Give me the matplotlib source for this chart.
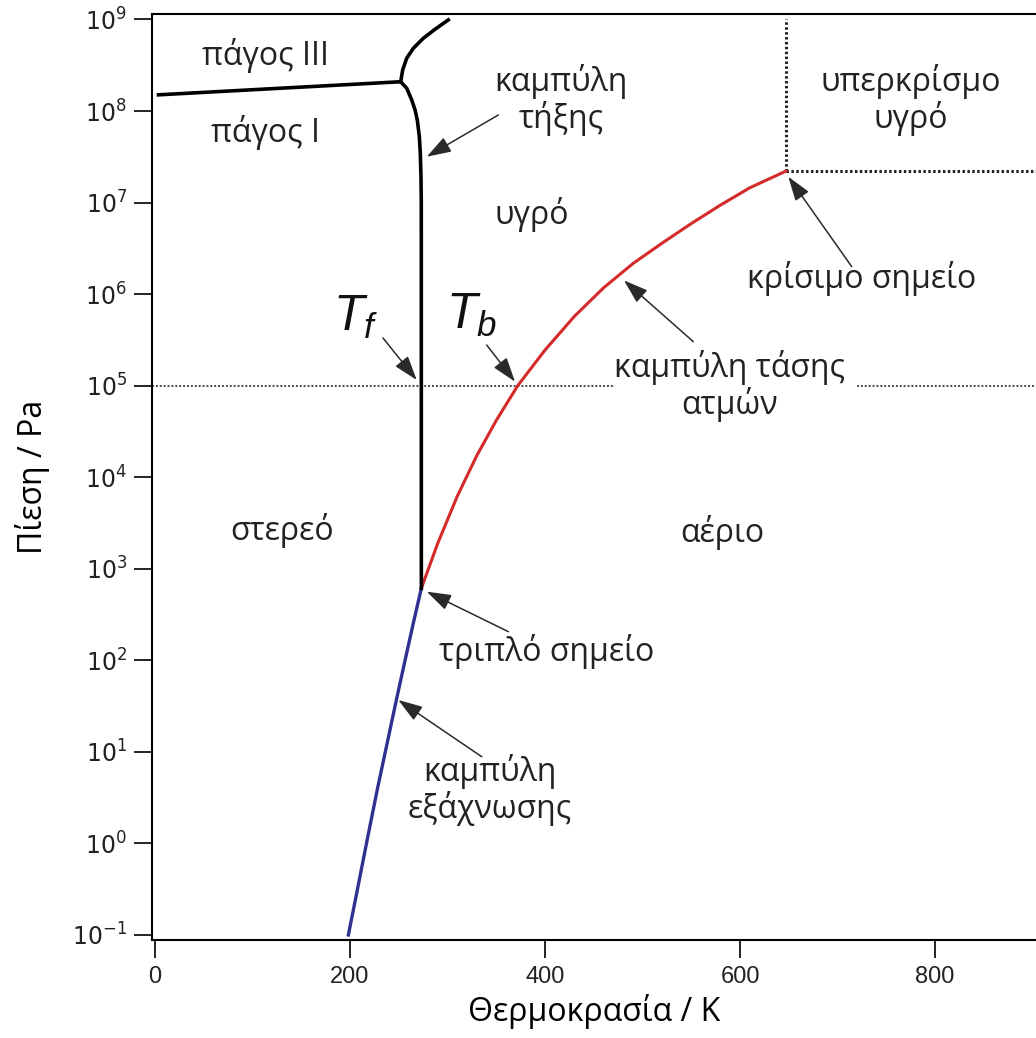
import numpy as np
import matplotlib
matplotlib.use("Agg")
import matplotlib.pyplot as plt
from matplotlib.ticker import FixedLocator, NullLocator

plt.rcParams["mathtext.fontset"] = "custom"
plt.rcParams["mathtext.rm"] = "Liberation Sans"
plt.rcParams["mathtext.it"] = "Liberation Sans:italic"

GREEK_FONT = ["Open Sans", "DejaVu Sans"]
TICK_FONT = ["Liberation Sans", "DejaVu Sans"]

# Phase boundaries of water (T in K, p in Pa)
triple_T, triple_p = 273.16, 611.7
critical_T, critical_p = 647.1, 2.206e7
standard_p = 1.0e5

# ice I / ice III boundary
ice13_T = [1.7, 252.0]
ice13_p = [1.50e8, 2.09e8]

# ice III / liquid (and above)
ice3_melt_T = [252.0, 254.0, 258.1, 264.9, 275.2, 287.2, 300.8]
ice3_melt_p = [2.09e8, 2.81e8, 3.77e8, 4.84e8, 6.24e8, 7.82e8, 9.9e8]

# ice I / liquid: melting curve
melt_T = [252.0, 258.2, 263.3, 266.7, 269.0, 271.1, 272.1, 272.8, 273.1, triple_T]
melt_p = [2.09e8, 1.77e8, 1.32e8, 1.03e8, 7.98e7, 5.25e7, 3.45e7, 1.92e7, 9.8e6, triple_p]

# liquid / vapour: vapour pressure curve
vap_T = [triple_T, 290, 310, 330, 350, 372, 400, 430, 460, 490, 520, 550, 580, 610, critical_T]
vap_p = [triple_p, 1.9e3, 6.2e3, 1.72e4, 4.17e4, 1.0e5, 2.45e5, 5.7e5, 1.17e6,
         2.15e6, 3.6e6, 5.9e6, 9.4e6, 1.45e7, critical_p]

# ice I / vapour: sublimation curve
sub_T = [triple_T, 265, 255, 247, 238, 228, 218, 208, 198.3]
sub_p = [triple_p, 257.0, 85.1, 34.7, 12.3, 3.89, 1.15, 0.33, 0.10]

x_ticks = [0, 200, 400, 600, 800]
y_exponents = list(range(-1, 10))

fig = plt.figure(figsize=(10.36, 10.38), dpi=100)
ax = fig.add_axes([152 / 1036, 98 / 1038, (1036 - 152) / 1036, (940 - 14) / 1038])
ax.set_yscale("log")
ax.set_xlim(-3.1, 903.6)
ax.set_ylim(10 ** -1.055, 10 ** 9.06)

# reference lines
ax.plot([ax.get_xlim()[0], 471.8], [standard_p, standard_p], color="#4a4a4a",
        lw=1.4, ls=(0, (1, 1)), zorder=1)
ax.plot([719.7, ax.get_xlim()[1]], [standard_p, standard_p], color="#4a4a4a",
        lw=1.4, ls=(0, (1, 1)), zorder=1)
ax.plot([critical_T, critical_T], [critical_p, 1e9], color="#222222",
        lw=2.2, ls=(0, (0.8, 0.8)), zorder=1)
ax.plot([critical_T, ax.get_xlim()[1]], [critical_p, critical_p], color="#222222",
        lw=2.2, ls=(0, (0.8, 0.8)), zorder=1)

# phase boundaries
ax.plot(ice13_T, ice13_p, color="black", lw=2.6, solid_capstyle="butt", zorder=3)
ax.plot(ice3_melt_T, ice3_melt_p, color="black", lw=2.6, zorder=3)
ax.plot(melt_T, melt_p, color="black", lw=2.6, zorder=3)
ax.plot(vap_T, vap_p, color="#d42a2a", lw=2.2, zorder=2)
ax.plot(sub_T, sub_p, color="#2e3192", lw=2.4, zorder=2)

# axes styling
for side in ("left", "bottom", "top"):
    ax.spines[side].set_linewidth(1.5)
ax.spines["right"].set_visible(False)
ax.xaxis.set_major_locator(FixedLocator(x_ticks))
ax.yaxis.set_major_locator(FixedLocator([10.0 ** k for k in y_exponents]))
ax.yaxis.set_minor_locator(NullLocator())
ax.set_xticklabels([str(v) for v in x_ticks], fontfamily=TICK_FONT, fontsize=17)
ax.set_yticklabels([r"$\mathregular{10^{%d}}$" % k for k in y_exponents], fontsize=17)
ax.tick_params(axis="both", direction="out", length=13, width=1.4, colors="#222222")
ax.tick_params(axis="x", pad=6)
ax.tick_params(axis="y", pad=5)

ax.set_xlabel("Θερμοκρασία / K", fontfamily=GREEK_FONT, fontsize=23, labelpad=4)
ax.set_ylabel("Πίεση / Pa", fontfamily=GREEK_FONT, fontsize=23, labelpad=16)

# region labels
labels = [
    ("πάγος III", 113.8, 10 ** 8.612),
    ("πάγος I", 113.8, 10 ** 7.771),
    ("καμπύλη\nτήξης", 416.4, 10 ** 8.121),
    ("υγρό", 386.7, 10 ** 6.865),
    ("υπερκρίσμο\nυγρό", 775.4, 10 ** 8.121),
    ("κρίσιμο σημείο", 725.1, 10 ** 6.166),
    ("καμπύλη τάσης\nατμών", 589.7, 10 ** 4.997),
    ("στερεό", 130.3, 10 ** 3.413),
    ("αέριο", 581.5, 10 ** 3.391),
    ("τριπλό σημείο", 402.0, 10 ** 2.093),
    ("καμπύλη\nεξάχνωσης", 343.6, 10 ** 0.585),
]
for txt, tx, ty in labels:
    ax.text(tx, ty, txt, ha="center", va="center", fontsize=23,
            fontfamily=GREEK_FONT, color="#222222", linespacing=1.1)

ax.text(206.0, 10 ** 5.75, r"$T_f$", ha="center", va="center", fontsize=36, color="#111111")
ax.text(325.0, 10 ** 5.77, r"$T_b$", ha="center", va="center", fontsize=36, color="#111111")

# arrows: (tail T, tail log p, head T, head log p)
arrows = [
    (352.1, 7.957, 278.7, 7.501),
    (233.8, 5.521, 268.4, 5.062),
    (340.2, 5.444, 369.2, 5.044),
    (552.1, 5.481, 481.0, 6.150),
    (714.6, 6.300, 649.5, 7.283),
    (362.4, 2.313, 278.7, 2.750),
    (335.1, 0.947, 249.5, 1.567),
]
for x0, y0, x1, y1 in arrows:
    ax.annotate("", xy=(x1, 10 ** y1), xytext=(x0, 10 ** y0),
                arrowprops=dict(arrowstyle="-|>,head_length=0.75,head_width=0.25",
                                mutation_scale=20, color="#2a2a2a", lw=1.1,
                                shrinkA=0, shrinkB=0),
                zorder=4)

fig.savefig("out.png", dpi=100)
